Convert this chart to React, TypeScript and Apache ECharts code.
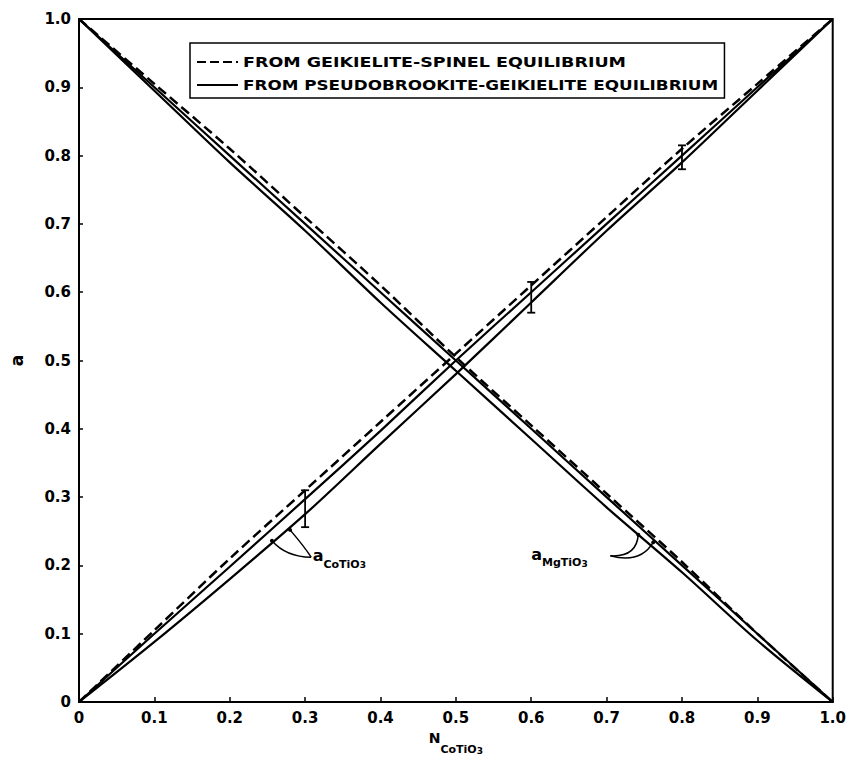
import React, { useEffect, useRef } from "react";
import * as echarts from "echarts";

// N_CoTiO3 positions
const nValues = [0, 0.1, 0.2, 0.3, 0.4, 0.5, 0.6, 0.7, 0.8, 0.9, 1.0];
// a_CoTiO3 curves
const coSpinel = [0, 0.105, 0.21, 0.31, 0.41, 0.51, 0.61, 0.71, 0.81, 0.905, 1.0];
const coPseudoUpper = [0, 0.1, 0.198, 0.297, 0.397, 0.5, 0.6, 0.7, 0.8, 0.9, 1.0];
const coPseudoLower = [0, 0.088, 0.18, 0.275, 0.378, 0.48, 0.585, 0.69, 0.79, 0.895, 1.0];
// a_MgTiO3 curves
const mgSpinel = [1.0, 0.905, 0.81, 0.71, 0.61, 0.505, 0.405, 0.305, 0.205, 0.1, 0];
const mgPseudoUpper = [1.0, 0.9, 0.8, 0.7, 0.6, 0.5, 0.4, 0.3, 0.2, 0.1, 0];
const mgPseudoLower = [1.0, 0.895, 0.79, 0.69, 0.585, 0.485, 0.385, 0.285, 0.19, 0.09, 0];
// error bars on a_CoTiO3
const errN = [0.3, 0.6, 0.8];
const errLow = [0.256, 0.57, 0.78];
const errHigh = [0.31, 0.615, 0.815];

const legendSpinel = "FROM GEIKIELITE-SPINEL EQUILIBRIUM";
const legendPseudo = "FROM PSEUDOBROOKITE-GEIKIELITE EQUILIBRIUM";

const FONT = "DejaVu Sans";

const pairs = (ys: number[]) => nValues.map((x, i) => [x, ys[i]]);

function measure(text: string, font: string) {
  const c = document.createElement("canvas");
  const ctx = c.getContext("2d");
  if (!ctx) return text.length * 10;
  ctx.font = font;
  return ctx.measureText(text).width;
}

export default function App() {
  const ref = useRef<HTMLDivElement>(null);
  useEffect(() => {
    if (!ref.current) return;
    const chart = echarts.init(ref.current, null, { renderer: "svg" });
    const lineSeries = (name: string, ys: number[], dashed: boolean) => ({
      type: "line",
      name,
      data: pairs(ys),
      showSymbol: false,
      symbol: "none",
      smooth: 0.3,
      lineStyle: { color: "#000", width: dashed ? 2.5 : 2.2, type: dashed ? [10, 5] : "solid" },
      itemStyle: { color: "#000" },
      z: 3,
    });
    const axisLabel = {
      color: "#000",
      fontFamily: FONT,
      fontWeight: "bold",
      fontSize: 15,
      formatter: (v: number) => (v === 0 ? "0" : v.toFixed(1)),
    };
    chart.setOption({
      animation: false,
      backgroundColor: "#fff",
      grid: { left: 70, right: 10, top: 19, bottom: 47, show: true, borderColor: "#000", borderWidth: 2, containLabel: false },
      xAxis: {
        type: "value",
        min: 0,
        max: 1,
        interval: 0.1,
        name: "{n|N}{s|CoTiO}{t|3}",
        nameLocation: "middle",
        nameGap: 29,
        nameTextStyle: {
          rich: {
            n: { fontSize: 14, fontWeight: "bold", fontFamily: FONT, color: "#000", verticalAlign: "top", lineHeight: 22 },
            s: { fontSize: 11, fontWeight: "bold", fontFamily: FONT, color: "#000", verticalAlign: "bottom", lineHeight: 22 },
            t: { fontSize: 9, fontWeight: "bold", fontFamily: FONT, color: "#000", verticalAlign: "bottom", lineHeight: 24 },
          },
        },
        axisLine: { lineStyle: { color: "#000", width: 2 } },
        axisTick: { inside: true, length: 5, lineStyle: { color: "#000", width: 1.5 } },
        axisLabel: { ...axisLabel, margin: 8 },
        splitLine: { show: false },
      },
      yAxis: {
        type: "value",
        min: 0,
        max: 1,
        interval: 0.1,
        name: "a",
        nameLocation: "middle",
        nameGap: 54,
        nameRotate: 90,
        nameTextStyle: { color: "#000", fontFamily: FONT, fontWeight: "bold", fontSize: 17 },
        axisLine: { lineStyle: { color: "#000", width: 2 } },
        axisTick: { inside: true, length: 4, lineStyle: { color: "#000", width: 1.5 } },
        axisLabel: { ...axisLabel, margin: 8 },
        splitLine: { show: false },
      },
      series: [
        lineSeries(legendSpinel, coSpinel, true),
        lineSeries(legendPseudo, coPseudoUpper, false),
        lineSeries(legendPseudo, coPseudoLower, false),
        lineSeries(legendSpinel, mgSpinel, true),
        lineSeries(legendPseudo, mgPseudoUpper, false),
        lineSeries(legendPseudo, mgPseudoLower, false),
        {
          type: "custom",
          name: "error",
          data: errN.map((x, i) => [x, errLow[i], errHigh[i]]),
          renderItem: (params: any, api: any) => {
            const lo = api.coord([api.value(0), api.value(1)]);
            const hi = api.coord([api.value(0), api.value(2)]);
            const w = 4;
            const st = { stroke: "#000", lineWidth: 1.8 };
            return {
              type: "group",
              children: [
                { type: "line", shape: { x1: lo[0], y1: lo[1], x2: hi[0], y2: hi[1] }, style: st },
                { type: "line", shape: { x1: lo[0] - w, y1: lo[1], x2: lo[0] + w, y2: lo[1] }, style: st },
                { type: "line", shape: { x1: hi[0] - w, y1: hi[1], x2: hi[0] + w, y2: hi[1] }, style: st },
              ],
            };
          },
          z: 4,
        },
      ],
    });

    const px = (x: number, y: number) => chart.convertToPixel({ gridIndex: 0 }, [x, y]) as number[];
    const curve = (from: number[], to: number[], bend: number[]) => {
      const a = px(from[0], from[1]);
      const b = px(to[0], to[1]);
      const c = px(bend[0], bend[1]);
      return {
        type: "bezierCurve",
        shape: { x1: a[0], y1: a[1], x2: b[0], y2: b[1], cpx1: c[0], cpy1: c[1] },
        style: { stroke: "#000", lineWidth: 1.5, fill: "none" },
        z: 10,
      };
    };
    const dot = (p: number[]) => {
      const q = px(p[0], p[1]);
      return { type: "circle", shape: { cx: q[0], cy: q[1], r: 2 }, style: { fill: "#000" }, z: 10 };
    };
    const coLabel = px(0.31, 0.21);
    const mgLabel = px(0.6, 0.212);
    const rich = {
      a: { fontSize: 16, fontFamily: FONT, fontWeight: "bold", fill: "#000", verticalAlign: "top", lineHeight: 20 },
      s: { fontSize: 11, fontFamily: FONT, fontWeight: "bold", fill: "#000", verticalAlign: "bottom", lineHeight: 20 },
      t: { fontSize: 9, fontFamily: FONT, fontWeight: "bold", fill: "#000", verticalAlign: "bottom", lineHeight: 22 },
    };

    // legend box (manual)
    const legFont = `bold 14px "${FONT}"`;
    const stretch1 = 1.25;
    const stretch2 = 1.2;
    const textX = 243;
    const maxW = Math.max(measure(legendSpinel, legFont) * stretch1, measure(legendPseudo, legFont) * stretch2);
    const boxX = 190;
    const boxY = 43;
    const boxW = textX - boxX + maxW + 6;
    const boxH = 55;
    const row1 = 62;
    const row2 = 85;
    const legendText = (t: string, y: number, s: number) => ({
      type: "text",
      x: textX,
      y,
      scaleX: s,
      style: { text: t, fill: "#000", font: legFont, verticalAlign: "middle", align: "left" },
      z: 21,
    });

    chart.setOption({
      graphic: [
        {
          type: "rect",
          shape: { x: boxX, y: boxY, width: boxW, height: boxH },
          style: { fill: "#fff", stroke: "#000", lineWidth: 1.5 },
          z: 20,
        },
        {
          type: "line",
          shape: { x1: 197, y1: row1, x2: 238, y2: row1 },
          style: { stroke: "#000", lineWidth: 2, lineDash: [9, 4] },
          z: 21,
        },
        {
          type: "line",
          shape: { x1: 197, y1: row2, x2: 238, y2: row2 },
          style: { stroke: "#000", lineWidth: 2 },
          z: 21,
        },
        legendText(legendSpinel, row1, stretch1),
        legendText(legendPseudo, row2, stretch2),
        curve([0.308, 0.212], [0.256, 0.236], [0.275, 0.212]),
        curve([0.308, 0.212], [0.28, 0.252], [0.3, 0.226]),
        dot([0.256, 0.236]),
        dot([0.28, 0.252]),
        {
          type: "text",
          x: coLabel[0],
          y: coLabel[1],
          style: { text: "{a|a}{s|CoTiO}{t|3}", rich, verticalAlign: "middle", align: "left" },
          z: 10,
        },
        curve([0.705, 0.214], [0.742, 0.245], [0.74, 0.212]),
        curve([0.705, 0.214], [0.762, 0.234], [0.745, 0.202]),
        dot([0.742, 0.245]),
        dot([0.762, 0.234]),
        {
          type: "text",
          x: mgLabel[0],
          y: mgLabel[1],
          style: { text: "{a|a}{s|MgTiO}{t|3}", rich, verticalAlign: "middle", align: "left" },
          z: 10,
        },
      ],
    });
    return () => chart.dispose();
  }, []);
  return <div ref={ref} style={{ width: 849, height: 760, position: "absolute", left: 0, top: 0 }} />;
}
